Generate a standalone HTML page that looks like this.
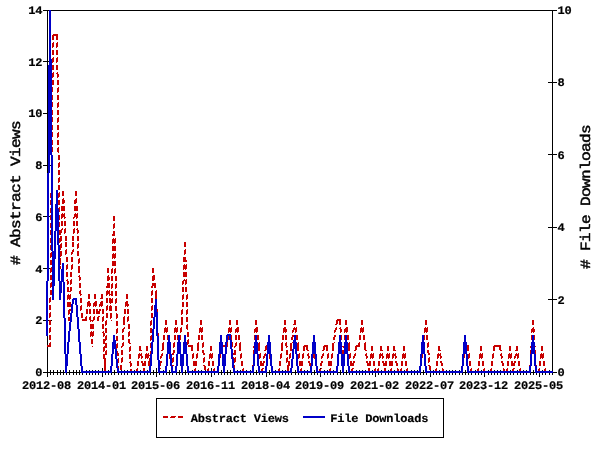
<!DOCTYPE html>
<html lang="en"><head><meta charset="utf-8"><title>Abstract Views and File Downloads</title>
<style>
html,body{margin:0;padding:0;background:#fff;}
body{width:600px;height:450px;overflow:hidden;}
svg{display:block;}
text{text-rendering:geometricPrecision;}
.t{font-family:"Liberation Mono","DejaVu Sans Mono",monospace;font-weight:bold;font-size:12px;letter-spacing:-0.2px;fill:#000;stroke:#000;stroke-width:0.2px;}
.g{font-family:"Liberation Mono","DejaVu Sans Mono",monospace;font-weight:normal;font-size:14px;letter-spacing:-0.57px;fill:#000;stroke:#000;stroke-width:0.45px;}
</style></head><body>
<svg width="600" height="450" viewBox="0 0 600 450">
<rect x="0" y="0" width="600" height="450" fill="#ffffff"/>
<g id="axes" shape-rendering="crispEdges" fill="#000">
<rect x="47" y="10" width="1" height="363"/>
<rect x="552" y="10" width="1" height="363"/>
<rect x="47" y="10" width="506" height="1"/>
<rect x="47" y="372" width="506" height="1"/>
<rect x="43" y="372" width="9" height="1"/>
<rect x="43" y="320" width="9" height="1"/>
<rect x="43" y="268" width="9" height="1"/>
<rect x="43" y="216" width="9" height="1"/>
<rect x="43" y="165" width="9" height="1"/>
<rect x="43" y="113" width="9" height="1"/>
<rect x="43" y="61" width="9" height="1"/>
<rect x="43" y="10" width="9" height="1"/>
<rect x="548" y="372" width="9" height="1"/>
<rect x="548" y="299" width="9" height="1"/>
<rect x="548" y="227" width="9" height="1"/>
<rect x="548" y="154" width="9" height="1"/>
<rect x="548" y="82" width="9" height="1"/>
<rect x="548" y="10" width="9" height="1"/>
<rect x="47" y="368" width="1" height="9"/>
<rect x="50" y="370" width="1" height="5"/>
<rect x="53" y="370" width="1" height="5"/>
<rect x="57" y="370" width="1" height="5"/>
<rect x="60" y="370" width="1" height="5"/>
<rect x="63" y="370" width="1" height="5"/>
<rect x="66" y="370" width="1" height="5"/>
<rect x="69" y="370" width="1" height="5"/>
<rect x="73" y="370" width="1" height="5"/>
<rect x="76" y="370" width="1" height="5"/>
<rect x="79" y="370" width="1" height="5"/>
<rect x="82" y="370" width="1" height="5"/>
<rect x="86" y="370" width="1" height="5"/>
<rect x="89" y="370" width="1" height="5"/>
<rect x="92" y="370" width="1" height="5"/>
<rect x="95" y="370" width="1" height="5"/>
<rect x="98" y="370" width="1" height="5"/>
<rect x="102" y="368" width="1" height="9"/>
<rect x="105" y="370" width="1" height="5"/>
<rect x="108" y="370" width="1" height="5"/>
<rect x="111" y="370" width="1" height="5"/>
<rect x="114" y="370" width="1" height="5"/>
<rect x="118" y="370" width="1" height="5"/>
<rect x="121" y="370" width="1" height="5"/>
<rect x="124" y="370" width="1" height="5"/>
<rect x="127" y="370" width="1" height="5"/>
<rect x="131" y="370" width="1" height="5"/>
<rect x="134" y="370" width="1" height="5"/>
<rect x="137" y="370" width="1" height="5"/>
<rect x="140" y="370" width="1" height="5"/>
<rect x="144" y="370" width="1" height="5"/>
<rect x="147" y="370" width="1" height="5"/>
<rect x="150" y="370" width="1" height="5"/>
<rect x="153" y="370" width="1" height="5"/>
<rect x="156" y="368" width="1" height="9"/>
<rect x="159" y="370" width="1" height="5"/>
<rect x="163" y="370" width="1" height="5"/>
<rect x="166" y="370" width="1" height="5"/>
<rect x="169" y="370" width="1" height="5"/>
<rect x="172" y="370" width="1" height="5"/>
<rect x="176" y="370" width="1" height="5"/>
<rect x="179" y="370" width="1" height="5"/>
<rect x="182" y="370" width="1" height="5"/>
<rect x="185" y="370" width="1" height="5"/>
<rect x="188" y="370" width="1" height="5"/>
<rect x="192" y="370" width="1" height="5"/>
<rect x="195" y="370" width="1" height="5"/>
<rect x="198" y="370" width="1" height="5"/>
<rect x="201" y="370" width="1" height="5"/>
<rect x="205" y="370" width="1" height="5"/>
<rect x="208" y="370" width="1" height="5"/>
<rect x="211" y="368" width="1" height="9"/>
<rect x="214" y="370" width="1" height="5"/>
<rect x="218" y="370" width="1" height="5"/>
<rect x="221" y="370" width="1" height="5"/>
<rect x="224" y="370" width="1" height="5"/>
<rect x="227" y="370" width="1" height="5"/>
<rect x="230" y="370" width="1" height="5"/>
<rect x="234" y="370" width="1" height="5"/>
<rect x="237" y="370" width="1" height="5"/>
<rect x="240" y="370" width="1" height="5"/>
<rect x="243" y="370" width="1" height="5"/>
<rect x="246" y="370" width="1" height="5"/>
<rect x="250" y="370" width="1" height="5"/>
<rect x="253" y="370" width="1" height="5"/>
<rect x="256" y="370" width="1" height="5"/>
<rect x="259" y="370" width="1" height="5"/>
<rect x="262" y="370" width="1" height="5"/>
<rect x="266" y="368" width="1" height="9"/>
<rect x="269" y="370" width="1" height="5"/>
<rect x="272" y="370" width="1" height="5"/>
<rect x="275" y="370" width="1" height="5"/>
<rect x="279" y="370" width="1" height="5"/>
<rect x="282" y="370" width="1" height="5"/>
<rect x="285" y="370" width="1" height="5"/>
<rect x="288" y="370" width="1" height="5"/>
<rect x="291" y="370" width="1" height="5"/>
<rect x="295" y="370" width="1" height="5"/>
<rect x="298" y="370" width="1" height="5"/>
<rect x="301" y="370" width="1" height="5"/>
<rect x="304" y="370" width="1" height="5"/>
<rect x="307" y="370" width="1" height="5"/>
<rect x="311" y="370" width="1" height="5"/>
<rect x="314" y="370" width="1" height="5"/>
<rect x="317" y="370" width="1" height="5"/>
<rect x="320" y="368" width="1" height="9"/>
<rect x="324" y="370" width="1" height="5"/>
<rect x="327" y="370" width="1" height="5"/>
<rect x="330" y="370" width="1" height="5"/>
<rect x="333" y="370" width="1" height="5"/>
<rect x="337" y="370" width="1" height="5"/>
<rect x="340" y="370" width="1" height="5"/>
<rect x="343" y="370" width="1" height="5"/>
<rect x="346" y="370" width="1" height="5"/>
<rect x="349" y="370" width="1" height="5"/>
<rect x="352" y="370" width="1" height="5"/>
<rect x="356" y="370" width="1" height="5"/>
<rect x="359" y="370" width="1" height="5"/>
<rect x="362" y="370" width="1" height="5"/>
<rect x="365" y="370" width="1" height="5"/>
<rect x="369" y="370" width="1" height="5"/>
<rect x="372" y="370" width="1" height="5"/>
<rect x="375" y="368" width="1" height="9"/>
<rect x="378" y="370" width="1" height="5"/>
<rect x="381" y="370" width="1" height="5"/>
<rect x="385" y="370" width="1" height="5"/>
<rect x="388" y="370" width="1" height="5"/>
<rect x="391" y="370" width="1" height="5"/>
<rect x="394" y="370" width="1" height="5"/>
<rect x="398" y="370" width="1" height="5"/>
<rect x="401" y="370" width="1" height="5"/>
<rect x="404" y="370" width="1" height="5"/>
<rect x="407" y="370" width="1" height="5"/>
<rect x="411" y="370" width="1" height="5"/>
<rect x="414" y="370" width="1" height="5"/>
<rect x="417" y="370" width="1" height="5"/>
<rect x="420" y="370" width="1" height="5"/>
<rect x="423" y="370" width="1" height="5"/>
<rect x="426" y="370" width="1" height="5"/>
<rect x="430" y="368" width="1" height="9"/>
<rect x="433" y="370" width="1" height="5"/>
<rect x="436" y="370" width="1" height="5"/>
<rect x="439" y="370" width="1" height="5"/>
<rect x="443" y="370" width="1" height="5"/>
<rect x="446" y="370" width="1" height="5"/>
<rect x="449" y="370" width="1" height="5"/>
<rect x="452" y="370" width="1" height="5"/>
<rect x="455" y="370" width="1" height="5"/>
<rect x="459" y="370" width="1" height="5"/>
<rect x="462" y="370" width="1" height="5"/>
<rect x="465" y="370" width="1" height="5"/>
<rect x="468" y="370" width="1" height="5"/>
<rect x="471" y="370" width="1" height="5"/>
<rect x="475" y="370" width="1" height="5"/>
<rect x="478" y="370" width="1" height="5"/>
<rect x="481" y="370" width="1" height="5"/>
<rect x="484" y="368" width="1" height="9"/>
<rect x="488" y="370" width="1" height="5"/>
<rect x="491" y="370" width="1" height="5"/>
<rect x="494" y="370" width="1" height="5"/>
<rect x="497" y="370" width="1" height="5"/>
<rect x="500" y="370" width="1" height="5"/>
<rect x="504" y="370" width="1" height="5"/>
<rect x="507" y="370" width="1" height="5"/>
<rect x="510" y="370" width="1" height="5"/>
<rect x="513" y="370" width="1" height="5"/>
<rect x="517" y="370" width="1" height="5"/>
<rect x="520" y="370" width="1" height="5"/>
<rect x="523" y="370" width="1" height="5"/>
<rect x="526" y="370" width="1" height="5"/>
<rect x="530" y="370" width="1" height="5"/>
<rect x="533" y="370" width="1" height="5"/>
<rect x="536" y="370" width="1" height="5"/>
<rect x="539" y="368" width="1" height="9"/>
<rect x="542" y="370" width="1" height="5"/>
<rect x="545" y="370" width="1" height="5"/>
<rect x="549" y="370" width="1" height="5"/>
<rect x="552" y="370" width="1" height="5"/>
</g>
<g id="legend-box" shape-rendering="crispEdges">
<rect x="156.5" y="398.5" width="287" height="39" fill="#fff" stroke="#000" stroke-width="1"/>
</g>
<g id="series" shape-rendering="crispEdges">
<path id="abstract-views" fill="#c80000" d="M47 345h4v2h-4zM49 298h2v4h-2zM49 302h1v1h-1zM49 305h2v5h-2zM49 313h2v4h-2zM49 317h1v1h-1zM49 320h2v5h-2zM49 328h2v4h-2zM49 332h1v1h-1zM49 335h2v5h-2zM49 343h2v2h-2zM50 193h1v5h-1zM50 200h1v5h-1zM50 208h1v5h-1zM50 215h1v5h-1zM50 223h1v5h-1zM50 230h1v5h-1zM50 238h1v5h-1zM50 245h1v5h-1zM50 253h2v4h-2zM50 257h1v1h-1zM50 260h2v5h-2zM50 268h2v4h-2zM50 272h1v1h-1zM50 275h2v5h-2zM50 283h2v4h-2zM50 287h1v1h-1zM50 290h2v5h-2zM50 297h1v1h-1zM50 312h1v1h-1zM50 327h1v1h-1zM50 342h1v1h-1zM51 252h1v1h-1zM51 267h1v1h-1zM51 282h1v1h-1zM52 35h6v1h-6zM52 36h2v4h-2zM52 43h2v4h-2zM52 47h1v1h-1zM52 50h2v5h-2zM52 58h2v4h-2zM52 62h1v1h-1zM52 65h2v5h-2zM52 73h2v4h-2zM52 77h1v1h-1zM52 80h2v5h-2zM52 87h1v5h-1zM52 95h1v5h-1zM52 102h1v5h-1zM52 110h1v5h-1zM52 117h1v5h-1zM52 125h1v5h-1zM52 132h1v5h-1zM52 140h1v5h-1zM52 147h1v5h-1zM53 34h5v1h-5zM53 42h1v1h-1zM53 57h1v1h-1zM53 72h1v1h-1zM56 36h2v4h-2zM56 43h2v4h-2zM56 47h1v1h-1zM56 50h2v5h-2zM56 58h2v4h-2zM56 62h1v1h-1zM56 65h2v5h-2zM56 73h2v1h-2zM57 42h1v1h-1zM57 57h1v1h-1zM57 72h1v1h-1zM57 74h2v3h-2zM57 77h1v1h-1zM57 80h2v5h-2zM57 88h2v4h-2zM57 92h1v1h-1zM57 95h2v5h-2zM57 103h2v4h-2zM57 107h1v1h-1zM57 110h2v5h-2zM57 118h2v4h-2zM57 122h1v1h-1zM57 125h2v5h-2zM57 133h2v4h-2zM57 137h1v1h-1zM57 140h2v5h-2zM57 148h2v4h-2zM58 87h1v1h-1zM58 102h1v1h-1zM58 117h1v1h-1zM58 132h1v1h-1zM58 147h1v1h-1zM58 152h1v1h-1zM58 155h2v5h-2zM58 163h2v4h-2zM58 167h1v1h-1zM58 170h2v5h-2zM58 178h2v4h-2zM58 182h1v1h-1zM58 185h2v5h-2zM58 193h2v4h-2zM58 197h1v1h-1zM58 200h2v5h-2zM58 208h2v1h-2zM59 162h1v1h-1zM59 177h1v1h-1zM59 192h1v1h-1zM59 207h1v1h-1zM59 209h1v3h-1zM59 215h1v5h-1zM59 222h1v5h-1zM59 230h3v3h-3zM59 233h2v2h-2zM59 238h3v3h-3zM59 241h2v1h-2zM59 242h1v1h-1zM60 236h2v2h-2zM60 244h2v4h-2zM60 248h1v2h-1zM60 251h2v5h-2zM60 256h1v1h-1zM60 258h1v7h-1zM60 266h1v3h-1zM61 206h4v5h-4zM61 214h4v3h-4zM61 217h2v1h-2zM61 218h1v1h-1zM61 221h2v5h-2zM61 229h2v1h-2zM61 243h1v1h-1zM62 191h2v5h-2zM62 199h2v1h-2zM62 200h3v3h-3zM62 203h2v1h-2zM62 213h1v1h-1zM62 228h1v1h-1zM63 198h1v1h-1zM64 213h1v1h-1zM64 217h2v1h-2zM64 218h1v1h-1zM64 221h2v5h-2zM64 229h2v4h-2zM64 233h1v1h-1zM65 228h1v1h-1zM65 236h2v5h-2zM65 242h2v5h-2zM65 250h2v4h-2zM65 254h1v1h-1zM66 249h1v1h-1zM66 257h2v5h-2zM66 265h2v4h-2zM66 269h1v1h-1zM66 272h2v5h-2zM66 280h2v1h-2zM67 264h1v1h-1zM67 279h1v1h-1zM67 281h2v3h-2zM67 284h1v1h-1zM67 287h2v4h-2zM67 291h4v1h-4zM67 295h4v4h-4zM67 299h1v1h-1zM67 302h4v5h-4zM68 294h1v1h-1zM68 310h3v1h-3zM68 311h2v3h-2zM68 314h1v1h-1zM68 317h2v4h-2zM69 299h1v1h-1zM69 309h2v1h-2zM70 272h2v5h-2zM70 280h2v4h-2zM70 284h1v1h-1zM70 287h2v4h-2zM70 294h1v1h-1zM71 252h2v2h-2zM71 254h1v1h-1zM71 257h2v5h-2zM71 265h2v4h-2zM71 269h1v1h-1zM71 279h1v1h-1zM72 236h2v5h-2zM72 242h2v5h-2zM72 250h2v2h-2zM72 264h1v1h-1zM73 217h2v1h-2zM73 218h1v1h-1zM73 221h2v5h-2zM73 229h2v4h-2zM73 233h1v1h-1zM73 249h1v1h-1zM74 200h3v3h-3zM74 203h2v1h-2zM74 206h4v5h-4zM74 214h4v3h-4zM74 228h1v1h-1zM75 191h2v5h-2zM75 199h2v1h-2zM75 213h1v1h-1zM76 198h1v1h-1zM76 217h2v1h-2zM76 218h1v1h-1zM76 221h2v5h-2zM76 229h2v1h-2zM77 213h1v1h-1zM77 228h1v1h-1zM77 230h2v3h-2zM77 233h1v1h-1zM77 236h2v5h-2zM77 244h2v4h-2zM77 248h1v1h-1zM77 251h2v5h-2zM78 243h1v1h-1zM78 259h2v4h-2zM78 263h1v1h-1zM78 266h2v7h-2zM78 276h2v1h-2zM79 258h1v1h-1zM79 275h1v1h-1zM79 277h2v3h-2zM79 280h1v1h-1zM79 283h2v5h-2zM79 291h2v3h-2zM80 290h1v1h-1zM80 294h2v1h-2zM80 295h1v1h-1zM80 298h2v5h-2zM80 306h2v4h-2zM80 310h1v1h-1zM81 305h1v1h-1zM81 313h2v5h-2zM82 319h5v2h-5zM85 317h2v2h-2zM86 309h2v5h-2zM86 316h1v1h-1zM87 302h3v1h-3zM87 303h4v3h-4zM87 306h1v1h-1zM88 294h2v5h-2zM88 301h2v1h-2zM89 306h1v1h-1zM89 309h2v5h-2zM89 317h2v3h-2zM90 316h1v1h-1zM90 320h4v1h-4zM90 321h1v1h-1zM90 324h4v5h-4zM90 332h4v4h-4zM90 336h1v1h-1zM91 331h1v1h-1zM91 339h2v5h-2zM92 321h1v1h-1zM92 336h1v1h-1zM92 346h1v1h-1zM93 303h4v3h-4zM93 306h1v1h-1zM93 309h2v5h-2zM93 317h2v3h-2zM93 331h1v1h-1zM94 294h2v5h-2zM94 302h3v1h-3zM94 316h1v1h-1zM95 301h2v1h-2zM95 306h1v1h-1zM96 309h2v2h-2zM96 311h4v3h-4zM97 317h2v4h-2zM98 316h2v1h-2zM99 304h4v2h-4zM99 306h1v1h-1zM99 309h2v2h-2zM100 298h3v1h-3zM100 302h3v2h-3zM101 294h2v4h-2zM101 301h2v1h-2zM101 306h1v1h-1zM102 309h2v5h-2zM102 317h2v4h-2zM102 321h1v1h-1zM102 324h2v5h-2zM102 332h2v1h-2zM103 316h1v1h-1zM103 331h1v1h-1zM103 333h2v3h-2zM103 336h1v1h-1zM103 339h4v1h-4zM103 340h3v1h-3zM103 341h2v2h-2zM103 343h4v1h-4zM103 347h4v1h-4zM103 348h2v3h-2zM103 351h1v1h-1zM103 354h4v1h-4zM103 355h2v3h-2zM103 358h3v1h-3zM104 346h3v1h-3zM104 359h2v12h-2zM105 321h2v4h-2zM105 325h1v1h-1zM105 328h2v5h-2zM105 336h2v3h-2zM105 344h2v2h-2zM105 351h2v3h-2zM106 286h4v2h-4zM106 291h4v3h-4zM106 294h2v1h-2zM106 295h1v1h-1zM106 298h2v5h-2zM106 306h2v4h-2zM106 310h1v1h-1zM106 313h2v5h-2zM106 320h1v1h-1zM106 335h1v1h-1zM106 350h1v1h-1zM107 268h2v5h-2zM107 276h2v1h-2zM107 277h3v3h-3zM107 280h2v1h-2zM107 283h3v3h-3zM107 290h1v1h-1zM107 305h1v1h-1zM108 275h1v1h-1zM109 290h1v1h-1zM109 294h4v1h-4zM109 295h1v1h-1zM109 298h2v1h-2zM109 299h4v4h-4zM109 306h3v5h-3zM110 303h1v1h-1zM110 305h1v1h-1zM110 313h2v5h-2zM110 318h1v1h-1zM111 269h2v4h-2zM111 273h1v1h-1zM111 276h2v5h-2zM111 284h2v4h-2zM111 288h1v1h-1zM111 291h2v3h-2zM111 295h2v1h-2zM111 320h1v1h-1zM112 234h3v2h-3zM112 239h4v4h-4zM112 243h1v1h-1zM112 246h4v5h-4zM112 254h4v4h-4zM112 258h1v1h-1zM112 261h4v5h-4zM112 268h1v1h-1zM112 283h1v1h-1zM112 298h1v1h-1zM113 216h2v5h-2zM113 224h2v4h-2zM113 228h1v1h-1zM113 231h2v3h-2zM113 238h1v1h-1zM113 253h1v1h-1zM114 223h1v1h-1zM114 243h1v1h-1zM114 258h1v1h-1zM114 269h2v4h-2zM114 273h1v1h-1zM115 238h1v1h-1zM115 253h1v1h-1zM115 268h1v1h-1zM115 276h2v5h-2zM115 284h2v4h-2zM115 288h1v1h-1zM115 291h2v5h-2zM115 299h2v4h-2zM115 303h1v1h-1zM115 306h2v5h-2zM116 283h1v1h-1zM116 298h1v1h-1zM116 313h1v1h-1zM116 314h2v4h-2zM116 318h1v1h-1zM116 321h2v5h-2zM116 329h2v4h-2zM116 333h1v1h-1zM116 336h2v5h-2zM116 344h2v4h-2zM116 348h1v1h-1zM117 328h1v1h-1zM117 343h1v1h-1zM117 351h1v2h-1zM117 353h2v3h-2zM118 358h1v5h-1zM118 366h1v2h-1zM120 365h2v5h-2zM121 346h2v1h-2zM121 347h1v1h-1zM121 350h2v5h-2zM121 358h2v4h-2zM121 362h1v1h-1zM122 329h2v3h-2zM122 332h1v1h-1zM122 335h2v5h-2zM122 343h2v3h-2zM122 357h1v1h-1zM123 317h2v8h-2zM123 328h2v1h-2zM123 342h1v1h-1zM124 309h2v5h-2zM124 316h1v1h-1zM124 327h1v1h-1zM125 302h3v2h-3zM125 304h4v2h-4zM125 306h1v1h-1zM126 294h2v5h-2zM126 301h2v1h-2zM127 306h1v1h-1zM127 309h2v5h-2zM127 317h2v4h-2zM127 321h1v1h-1zM128 316h1v1h-1zM128 324h2v5h-2zM128 332h2v4h-2zM128 336h1v1h-1zM128 339h2v4h-2zM129 331h1v1h-1zM129 343h2v1h-2zM129 347h2v4h-2zM129 351h1v1h-1zM129 354h2v5h-2zM129 362h2v1h-2zM130 346h1v1h-1zM130 361h1v1h-1zM130 363h2v3h-2zM130 366h1v1h-1zM130 369h2v2h-2zM136 369h2v2h-2zM137 361h2v5h-2zM137 368h1v1h-1zM138 354h4v2h-4zM138 356h2v2h-2zM138 358h1v1h-1zM139 346h2v4h-2zM139 350h3v1h-3zM139 353h1v1h-1zM141 353h1v1h-1zM141 356h2v2h-2zM141 358h1v1h-1zM141 361h2v2h-2zM142 363h4v3h-4zM143 368h2v3h-2zM144 361h2v2h-2zM145 354h4v1h-4zM145 355h5v1h-5zM145 356h4v2h-4zM145 358h1v1h-1zM146 346h2v5h-2zM146 353h1v1h-1zM147 358h1v1h-1zM148 353h1v1h-1zM148 361h2v5h-2zM149 358h1v3h-1zM150 321h2v4h-2zM150 325h1v1h-1zM150 328h2v5h-2zM150 336h2v4h-2zM150 340h1v1h-1zM150 343h1v5h-1zM150 351h1v3h-1zM151 286h2v2h-2zM151 291h2v4h-2zM151 295h1v1h-1zM151 298h2v5h-2zM151 306h2v4h-2zM151 310h1v1h-1zM151 313h2v5h-2zM151 320h1v1h-1zM151 335h1v1h-1zM152 268h2v5h-2zM152 276h3v4h-3zM152 280h2v1h-2zM152 283h4v3h-4zM152 290h1v1h-1zM152 305h1v1h-1zM153 275h2v1h-2zM154 286h2v2h-2zM155 291h2v8h-2zM156 290h1v1h-1zM157 309h1v3h-1zM158 333h1v3h-1zM160 356h2v2h-2zM160 358h1v1h-1zM160 361h2v2h-2zM160 363h1v3h-1zM160 368h1v1h-1zM161 350h2v1h-2zM161 354h2v2h-2zM162 343h2v7h-2zM162 353h1v1h-1zM163 335h2v5h-2zM163 342h1v1h-1zM163 416h5v2h-5zM164 328h4v4h-4zM164 332h1v1h-1zM165 320h2v5h-2zM165 327h1v1h-1zM166 332h1v1h-1zM167 327h1v1h-1zM167 335h1v5h-1zM169 354h1v5h-1zM170 417h5v1h-5zM171 416h5v1h-5zM172 353h2v2h-2zM172 358h2v4h-2zM172 362h1v1h-1zM172 365h2v1h-2zM173 343h2v4h-2zM173 347h1v1h-1zM173 350h2v3h-2zM173 357h1v1h-1zM174 328h4v4h-4zM174 332h1v1h-1zM174 335h2v5h-2zM174 342h1v1h-1zM175 320h2v5h-2zM175 327h1v1h-1zM176 332h1v1h-1zM177 327h1v1h-1zM177 335h1v5h-1zM178 416h5v2h-5zM180 328h2v4h-2zM180 332h1v1h-1zM180 335h1v5h-1zM181 310h2v4h-2zM181 314h1v1h-1zM181 317h2v8h-2zM181 327h1v1h-1zM182 281h2v3h-2zM182 284h1v1h-1zM182 287h2v5h-2zM182 295h2v4h-2zM182 299h1v1h-1zM182 302h2v5h-2zM182 309h1v1h-1zM183 257h3v3h-3zM183 260h4v2h-4zM183 265h4v4h-4zM183 269h1v1h-1zM183 272h4v5h-4zM183 280h4v1h-4zM183 294h1v1h-1zM184 242h2v5h-2zM184 250h2v4h-2zM184 254h1v1h-1zM184 264h1v1h-1zM184 279h1v1h-1zM185 249h1v1h-1zM185 269h1v1h-1zM185 281h2v3h-2zM185 284h1v1h-1zM185 287h2v5h-2zM186 264h1v1h-1zM186 279h1v1h-1zM186 295h2v4h-2zM186 299h1v1h-1zM186 302h2v5h-2zM186 310h2v4h-2zM186 314h1v1h-1zM186 317h2v5h-2zM186 325h2v4h-2zM187 294h1v1h-1zM187 309h1v1h-1zM187 324h1v1h-1zM187 329h1v1h-1zM187 332h2v5h-2zM187 340h2v4h-2zM187 344h1v1h-1zM188 339h1v1h-1zM188 345h5v2h-5zM191 347h2v4h-2zM192 354h2v4h-2zM192 358h1v1h-1zM193 353h1v1h-1zM193 361h4v5h-4zM194 369h2v2h-2zM195 368h1v1h-1zM196 354h2v4h-2zM196 358h1v1h-1zM197 343h2v8h-2zM197 353h1v1h-1zM198 335h2v5h-2zM198 342h1v1h-1zM199 328h4v4h-4zM199 332h1v1h-1zM200 320h2v5h-2zM200 327h1v1h-1zM201 332h1v1h-1zM201 335h2v5h-2zM202 327h1v1h-1zM202 343h2v4h-2zM202 347h1v1h-1zM202 350h2v3h-2zM203 342h1v1h-1zM203 353h2v2h-2zM203 358h2v4h-2zM203 362h1v1h-1zM203 365h2v1h-2zM204 357h1v1h-1zM204 366h2v4h-2zM207 369h2v2h-2zM208 361h2v5h-2zM208 368h1v1h-1zM209 354h4v4h-4zM209 358h1v1h-1zM210 346h2v5h-2zM210 353h1v1h-1zM211 358h1v1h-1zM212 353h1v1h-1zM212 361h2v5h-2zM213 369h2v2h-2zM214 368h1v1h-1zM220 354h1v4h-1zM223 345h2v2h-2zM227 342h1v5h-1zM228 328h4v4h-4zM228 332h1v1h-1zM228 336h1v4h-1zM229 320h2v5h-2zM229 327h1v1h-1zM230 332h1v1h-1zM231 327h1v1h-1zM231 335h1v5h-1zM232 342h1v5h-1zM233 353h3v2h-3zM233 357h1v1h-1zM233 358h3v1h-3zM234 346h2v1h-2zM234 347h1v1h-1zM234 350h2v3h-2zM234 359h2v3h-2zM234 362h1v1h-1zM234 365h1v3h-1zM235 329h4v3h-4zM235 332h1v1h-1zM235 335h2v5h-2zM235 343h2v3h-2zM235 357h1v1h-1zM236 320h2v5h-2zM236 328h3v1h-3zM236 342h1v1h-1zM237 327h2v1h-2zM237 332h1v1h-1zM238 335h2v5h-2zM239 343h2v8h-2zM240 342h1v1h-1zM240 354h2v4h-2zM240 358h1v1h-1zM241 353h1v1h-1zM241 361h2v5h-2zM242 369h2v2h-2zM243 368h1v1h-1zM252 365h1v1h-1zM253 346h1v2h-1zM253 350h1v4h-1zM254 329h4v3h-4zM254 332h1v1h-1zM254 335h1v5h-1zM255 320h2v5h-2zM255 328h3v1h-3zM256 327h2v1h-2zM256 332h1v1h-1zM257 335h2v5h-2zM258 343h2v8h-2zM259 342h1v1h-1zM259 354h2v4h-2zM259 358h1v1h-1zM260 353h1v1h-1zM260 361h2v2h-2zM260 363h4v3h-4zM261 369h2v2h-2zM262 368h2v1h-2zM263 356h2v2h-2zM263 358h1v1h-1zM263 361h2v2h-2zM264 350h2v1h-2zM264 354h2v2h-2zM265 346h2v4h-2zM265 353h1v1h-1zM266 345h1v1h-1zM269 354h1v5h-1zM278 369h2v2h-2zM279 361h2v5h-2zM279 368h1v1h-1zM280 354h2v4h-2zM280 358h1v1h-1zM281 343h2v8h-2zM281 353h1v1h-1zM282 335h2v5h-2zM282 342h1v1h-1zM283 328h3v1h-3zM283 329h4v3h-4zM283 332h1v1h-1zM284 320h2v5h-2zM284 327h2v1h-2zM285 332h1v1h-1zM285 335h2v5h-2zM285 343h2v3h-2zM286 342h1v1h-1zM286 346h2v1h-2zM286 347h1v1h-1zM286 350h2v5h-2zM286 358h2v3h-2zM286 361h4v1h-4zM286 362h1v1h-1zM287 357h1v1h-1zM287 365h3v1h-3zM287 366h2v5h-2zM288 362h2v3h-2zM289 354h2v4h-2zM289 358h1v1h-1zM290 343h2v8h-2zM290 353h1v1h-1zM291 337h2v3h-2zM292 330h2v2h-2zM292 332h1v1h-1zM292 335h2v2h-2zM292 342h1v1h-1zM293 324h3v1h-3zM293 328h4v2h-4zM294 320h2v4h-2zM294 327h1v1h-1zM295 330h2v2h-2zM295 332h1v1h-1zM296 327h1v1h-1zM296 335h2v5h-2zM297 343h2v8h-2zM298 342h1v1h-1zM298 354h2v4h-2zM298 358h1v1h-1zM299 353h1v1h-1zM299 361h4v5h-4zM300 369h2v2h-2zM301 368h1v1h-1zM302 354h2v4h-2zM302 358h1v1h-1zM303 346h5v1h-5zM303 347h2v4h-2zM303 353h1v1h-1zM304 345h4v1h-4zM306 347h2v3h-2zM307 350h2v1h-2zM307 354h2v2h-2zM308 353h1v1h-1zM308 356h2v2h-2zM308 358h1v1h-1zM308 361h2v2h-2zM309 363h2v3h-2zM313 354h2v4h-2zM314 358h1v1h-1zM319 369h2v2h-2zM320 363h2v3h-2zM321 356h2v2h-2zM321 358h1v1h-1zM321 361h2v2h-2zM321 368h1v1h-1zM322 350h2v1h-2zM322 354h2v2h-2zM323 346h5v1h-5zM323 347h2v3h-2zM323 353h1v1h-1zM324 345h4v1h-4zM326 347h2v4h-2zM327 354h2v4h-2zM327 358h1v1h-1zM328 353h1v1h-1zM328 361h4v5h-4zM329 369h2v2h-2zM330 368h1v1h-1zM331 354h2v4h-2zM331 358h1v1h-1zM332 343h2v8h-2zM332 353h1v1h-1zM333 337h2v3h-2zM334 330h2v2h-2zM334 332h1v1h-1zM334 335h2v2h-2zM334 342h1v1h-1zM335 324h2v1h-2zM335 328h2v2h-2zM336 320h5v1h-5zM336 321h2v3h-2zM336 327h1v1h-1zM337 319h4v1h-4zM339 321h2v4h-2zM339 328h2v1h-2zM340 327h1v1h-1zM340 329h2v3h-2zM340 332h1v1h-1zM341 335h1v5h-1zM342 346h2v1h-2zM342 350h2v4h-2zM343 347h1v1h-1zM344 329h4v3h-4zM344 332h1v1h-1zM344 335h1v5h-1zM345 320h2v5h-2zM345 328h3v1h-3zM346 327h2v1h-2zM346 332h1v1h-1zM347 335h2v5h-2zM348 343h2v8h-2zM349 342h1v1h-1zM349 354h2v4h-2zM349 358h1v1h-1zM350 353h1v1h-1zM350 361h2v2h-2zM350 363h4v3h-4zM351 369h2v2h-2zM352 368h2v1h-2zM353 356h2v2h-2zM353 358h1v1h-1zM353 361h2v2h-2zM354 350h2v1h-2zM354 354h2v2h-2zM355 346h5v1h-5zM355 347h2v3h-2zM355 353h1v1h-1zM356 345h4v1h-4zM358 343h2v2h-2zM359 335h2v5h-2zM359 342h1v1h-1zM360 328h4v4h-4zM360 332h1v1h-1zM361 320h2v5h-2zM361 327h1v1h-1zM362 332h1v1h-1zM363 327h1v1h-1zM363 335h2v5h-2zM364 343h2v7h-2zM365 342h1v1h-1zM365 350h2v1h-2zM365 354h2v2h-2zM366 353h1v1h-1zM366 356h2v2h-2zM366 358h1v1h-1zM366 361h2v2h-2zM367 363h4v3h-4zM368 368h2v3h-2zM369 361h2v2h-2zM370 354h4v4h-4zM370 358h1v1h-1zM371 346h2v5h-2zM371 353h1v1h-1zM372 358h1v1h-1zM373 353h1v1h-1zM373 361h2v5h-2zM374 369h2v2h-2zM375 368h1v1h-1zM377 369h2v2h-2zM378 361h2v5h-2zM378 368h1v1h-1zM379 354h4v2h-4zM379 356h2v2h-2zM379 358h1v1h-1zM380 346h2v4h-2zM380 350h3v1h-3zM380 353h1v1h-1zM382 353h1v1h-1zM382 356h2v2h-2zM382 358h1v1h-1zM382 361h2v2h-2zM383 363h4v3h-4zM384 368h2v3h-2zM385 361h2v2h-2zM386 354h4v4h-4zM386 358h1v1h-1zM387 346h2v5h-2zM387 353h1v1h-1zM388 358h1v1h-1zM389 353h1v1h-1zM389 361h4v5h-4zM390 369h2v2h-2zM391 368h1v1h-1zM392 354h4v2h-4zM392 356h2v2h-2zM392 358h1v1h-1zM393 346h2v4h-2zM393 350h3v1h-3zM393 353h1v1h-1zM395 353h1v1h-1zM395 356h2v2h-2zM395 358h1v1h-1zM395 361h2v2h-2zM396 363h2v3h-2zM397 368h1v1h-1zM397 369h2v2h-2zM400 369h2v2h-2zM401 361h2v5h-2zM401 368h1v1h-1zM402 354h4v4h-4zM402 358h1v1h-1zM403 346h2v5h-2zM403 353h1v1h-1zM404 358h1v1h-1zM405 353h1v1h-1zM405 361h2v5h-2zM406 369h2v2h-2zM407 368h1v1h-1zM422 354h1v4h-1zM424 328h4v4h-4zM424 332h1v1h-1zM424 335h1v5h-1zM425 320h2v5h-2zM425 327h1v1h-1zM426 332h1v1h-1zM426 335h2v5h-2zM427 327h1v1h-1zM427 343h2v4h-2zM427 347h1v1h-1zM427 350h2v3h-2zM428 342h1v1h-1zM428 353h2v2h-2zM428 358h2v4h-2zM428 362h1v1h-1zM428 365h2v1h-2zM429 357h1v1h-1zM429 366h2v4h-2zM435 369h2v2h-2zM436 361h2v5h-2zM436 368h1v1h-1zM437 354h4v2h-4zM437 356h2v2h-2zM437 358h1v1h-1zM438 346h2v4h-2zM438 350h3v1h-3zM438 353h1v1h-1zM440 353h1v1h-1zM440 356h2v2h-2zM440 358h1v1h-1zM440 361h2v2h-2zM441 363h2v3h-2zM442 368h1v1h-1zM442 369h2v2h-2zM464 354h1v4h-1zM467 345h2v6h-2zM468 354h2v4h-2zM468 358h1v1h-1zM469 353h1v1h-1zM469 361h2v5h-2zM470 369h2v2h-2zM471 368h1v1h-1zM477 369h2v2h-2zM478 361h2v5h-2zM478 368h1v1h-1zM479 354h4v4h-4zM479 358h1v1h-1zM480 346h2v5h-2zM480 353h1v1h-1zM481 358h1v1h-1zM482 353h1v1h-1zM482 361h2v5h-2zM483 369h2v2h-2zM484 368h1v1h-1zM490 369h2v2h-2zM491 361h2v5h-2zM491 368h1v1h-1zM492 354h2v4h-2zM492 358h1v1h-1zM493 346h8v1h-8zM493 347h2v4h-2zM493 353h1v1h-1zM494 345h7v1h-7zM499 347h2v3h-2zM500 350h2v1h-2zM500 354h2v2h-2zM501 353h1v1h-1zM501 356h2v2h-2zM501 358h1v1h-1zM501 361h2v2h-2zM502 363h2v3h-2zM503 368h1v1h-1zM503 369h2v2h-2zM506 369h2v2h-2zM507 361h2v5h-2zM507 368h1v1h-1zM508 354h4v4h-4zM508 358h1v1h-1zM509 346h2v5h-2zM509 353h1v1h-1zM510 358h1v1h-1zM511 353h1v1h-1zM511 361h2v2h-2zM511 363h4v3h-4zM512 369h2v2h-2zM513 368h2v1h-2zM514 356h2v2h-2zM514 358h1v1h-1zM514 361h2v2h-2zM515 350h3v1h-3zM515 354h4v2h-4zM516 346h2v4h-2zM516 353h1v1h-1zM517 356h2v2h-2zM517 358h1v1h-1zM518 353h1v1h-1zM518 361h2v5h-2zM519 369h2v2h-2zM520 368h1v1h-1zM529 365h1v1h-1zM530 346h1v2h-1zM530 350h1v4h-1zM531 329h4v3h-4zM531 332h1v1h-1zM531 335h1v5h-1zM532 320h2v5h-2zM532 328h2v1h-2zM533 327h1v1h-1zM533 332h1v1h-1zM534 335h1v5h-1zM535 346h1v1h-1zM535 350h1v4h-1zM536 365h1v1h-1zM538 369h2v2h-2zM539 361h2v5h-2zM539 368h1v1h-1zM540 354h4v4h-4zM540 358h1v1h-1zM541 346h2v5h-2zM541 353h1v1h-1zM542 358h1v1h-1zM543 353h1v1h-1zM543 361h2v5h-2zM544 369h2v2h-2zM545 368h1v1h-1z"/>
<path id="file-downloads" fill="#0000c8" d="M46 281h2v55h-2zM47 173h2v108h-2zM48 65h4v90h-4zM48 155h2v18h-2zM49 10h2v49h-2zM49 59h3v6h-3zM51 155h2v96h-2zM52 251h4v8h-4zM52 259h3v27h-3zM52 286h2v14h-2zM54 231h2v20h-2zM55 204h3v5h-3zM55 209h4v22h-4zM56 190h2v14h-2zM57 231h2v14h-2zM58 245h2v36h-2zM59 281h5v1h-5zM59 282h3v11h-3zM59 293h2v7h-2zM61 269h3v12h-3zM62 263h2v6h-2zM63 282h2v36h-2zM64 318h2v36h-2zM65 354h3v12h-3zM65 366h2v7h-2zM67 342h2v12h-2zM68 331h2v11h-2zM69 322h2v9h-2zM70 313h2v9h-2zM71 304h2v9h-2zM72 299h5v1h-5zM72 300h2v4h-2zM73 298h4v1h-4zM75 300h2v5h-2zM76 305h2v12h-2zM77 317h2v12h-2zM78 329h2v13h-2zM79 342h2v12h-2zM80 354h2v12h-2zM81 366h2v5h-2zM81 371h31v2h-31zM110 366h2v5h-2zM111 354h2v12h-2zM112 342h4v7h-4zM112 349h2v5h-2zM113 335h2v5h-2zM113 340h3v2h-3zM115 349h2v10h-2zM116 359h2v9h-2zM117 368h2v3h-2zM117 371h34v2h-34zM149 366h2v5h-2zM150 354h2v12h-2zM151 342h2v12h-2zM152 329h2v13h-2zM153 317h2v12h-2zM154 305h3v7h-3zM154 312h4v5h-4zM155 299h2v6h-2zM156 317h2v19h-2zM157 336h2v24h-2zM158 360h2v11h-2zM158 371h9v2h-9zM165 366h2v5h-2zM166 354h2v12h-2zM167 342h4v12h-4zM168 335h2v7h-2zM170 354h2v12h-2zM171 366h2v5h-2zM171 371h6v2h-6zM175 366h2v5h-2zM176 354h2v12h-2zM177 342h4v12h-4zM178 335h2v7h-2zM180 354h4v12h-4zM181 366h2v7h-2zM183 342h4v12h-4zM184 335h2v7h-2zM186 354h2v12h-2zM187 366h2v5h-2zM187 371h32v2h-32zM217 366h2v5h-2zM218 354h2v12h-2zM219 342h4v12h-4zM220 335h2v7h-2zM222 354h4v12h-4zM223 366h2v7h-2zM225 342h2v12h-2zM226 335h5v1h-5zM226 336h2v6h-2zM227 334h4v1h-4zM229 336h2v4h-2zM230 340h2v9h-2zM231 349h2v10h-2zM232 359h2v9h-2zM233 368h2v3h-2zM233 371h21v2h-21zM252 366h2v5h-2zM253 354h2v12h-2zM254 342h4v12h-4zM255 335h2v7h-2zM257 354h2v12h-2zM258 366h2v5h-2zM258 371h9v2h-9zM265 366h2v5h-2zM266 354h2v12h-2zM267 342h4v12h-4zM268 335h2v7h-2zM270 354h2v12h-2zM271 366h2v5h-2zM271 371h21v2h-21zM290 368h2v3h-2zM291 359h2v9h-2zM292 349h2v10h-2zM293 340h3v2h-3zM293 342h4v7h-4zM294 335h2v5h-2zM295 349h2v5h-2zM296 354h2v12h-2zM297 366h2v5h-2zM297 371h15v2h-15zM303 416h22v2h-22zM310 366h2v5h-2zM311 354h2v12h-2zM312 342h4v12h-4zM313 335h2v7h-2zM315 354h2v12h-2zM316 366h2v5h-2zM316 371h22v2h-22zM336 366h2v5h-2zM337 354h2v12h-2zM338 342h4v12h-4zM339 335h2v7h-2zM341 354h4v12h-4zM342 366h2v7h-2zM344 342h4v12h-4zM345 335h2v7h-2zM347 354h2v12h-2zM348 366h2v5h-2zM348 371h73v2h-73zM419 366h2v5h-2zM420 354h2v12h-2zM421 342h4v12h-4zM422 335h2v7h-2zM424 354h2v12h-2zM425 366h2v5h-2zM425 371h38v2h-38zM461 366h2v5h-2zM462 354h2v12h-2zM463 342h4v12h-4zM464 335h2v7h-2zM466 354h2v12h-2zM467 366h2v5h-2zM467 371h64v2h-64zM529 366h2v5h-2zM530 354h2v12h-2zM531 342h4v12h-4zM532 335h2v7h-2zM534 354h2v12h-2zM535 366h2v5h-2zM535 371h18v2h-18z"/>
</g>
<g class="t">
<text transform="translate(42.2,376) scale(1,0.96)" text-anchor="end">0</text>
<text transform="translate(42.2,324) scale(1,0.96)" text-anchor="end">2</text>
<text transform="translate(42.2,273) scale(1,0.96)" text-anchor="end">4</text>
<text transform="translate(42.2,221) scale(1,0.96)" text-anchor="end">6</text>
<text transform="translate(42.2,169) scale(1,0.96)" text-anchor="end">8</text>
<text transform="translate(42.2,117) scale(1,0.96)" text-anchor="end">10</text>
<text transform="translate(42.2,66) scale(1,0.96)" text-anchor="end">12</text>
<text transform="translate(42.2,14) scale(1,0.96)" text-anchor="end">14</text>
<text transform="translate(557.6,376) scale(1,0.96)" text-anchor="start">0</text>
<text transform="translate(557.6,304) scale(1,0.96)" text-anchor="start">2</text>
<text transform="translate(557.6,231) scale(1,0.96)" text-anchor="start">4</text>
<text transform="translate(557.6,159) scale(1,0.96)" text-anchor="start">6</text>
<text transform="translate(557.6,86) scale(1,0.96)" text-anchor="start">8</text>
<text transform="translate(557.6,14) scale(1,0.96)" text-anchor="start">10</text>
<text transform="translate(46.6,389) scale(1,0.96)" text-anchor="middle">2012-08</text>
<text transform="translate(101.6,389) scale(1,0.96)" text-anchor="middle">2014-01</text>
<text transform="translate(155.6,389) scale(1,0.96)" text-anchor="middle">2015-06</text>
<text transform="translate(210.6,389) scale(1,0.96)" text-anchor="middle">2016-11</text>
<text transform="translate(265.6,389) scale(1,0.96)" text-anchor="middle">2018-04</text>
<text transform="translate(319.6,389) scale(1,0.96)" text-anchor="middle">2019-09</text>
<text transform="translate(374.6,389) scale(1,0.96)" text-anchor="middle">2021-02</text>
<text transform="translate(429.6,389) scale(1,0.96)" text-anchor="middle">2022-07</text>
<text transform="translate(483.6,389) scale(1,0.96)" text-anchor="middle">2023-12</text>
<text transform="translate(538.6,389) scale(1,0.96)" text-anchor="middle">2025-05</text>
</g>
<g class="g">
<text transform="translate(20,193) rotate(-90) scale(1.15,1)" text-anchor="middle"># Abstract Views</text>
<text transform="translate(590,197) rotate(-90) scale(1.15,1)" text-anchor="middle"># File Downloads</text>
</g>
<g class="t">
<text transform="translate(190.7,422) scale(1,0.96)" text-anchor="start">Abstract Views</text>
<text transform="translate(330.3,422) scale(1,0.96)" text-anchor="start">File Downloads</text>
</g>
</svg>
</body></html>
